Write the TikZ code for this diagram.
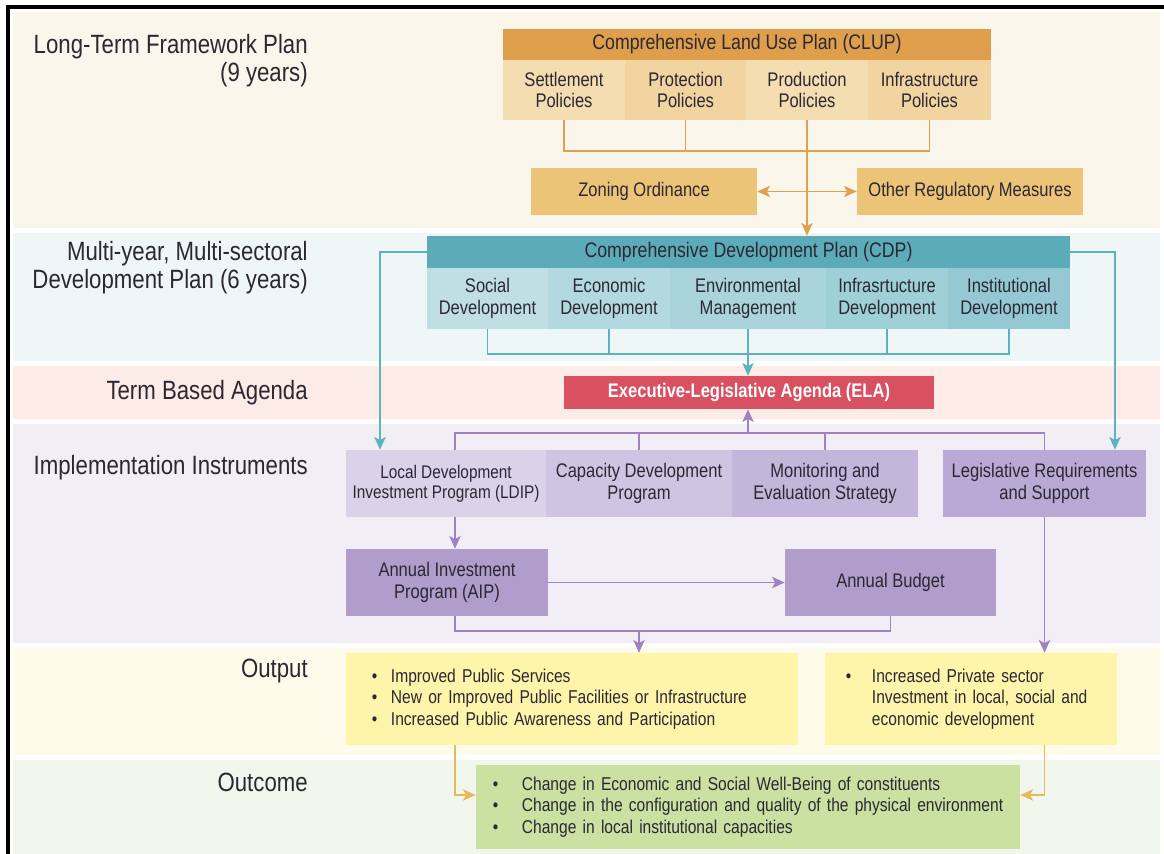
\documentclass[tikz,border=0pt]{standalone}
\usepackage{fontspec}
\setmainfont{Liberation Sans}[FakeStretch=0.84]
\usepackage{tikz}
\usetikzlibrary{arrows.meta}

\definecolor{ink}{HTML}{2B2833}
\definecolor{bandA}{HTML}{FBF6EC}
\definecolor{bandB}{HTML}{EEF6F8}
\definecolor{bandC}{HTML}{FCEBE7}
\definecolor{bandD}{HTML}{F1EEF6}
\definecolor{bandE}{HTML}{FEFBEA}
\definecolor{bandF}{HTML}{F2F7EE}
\definecolor{clupHead}{HTML}{DE9E4C}
\definecolor{clupA}{HTML}{F4DDB0}
\definecolor{clupB}{HTML}{F1D4A0}
\definecolor{zoneFill}{HTML}{ECC477}
\definecolor{orline}{HTML}{DFA04F}
\definecolor{cdpHead}{HTML}{5CABB8}
\definecolor{cdpA}{HTML}{C0DFE5}
\definecolor{cdpB}{HTML}{B3D9E0}
\definecolor{cdpC}{HTML}{A9D4DB}
\definecolor{cdpD}{HTML}{9FCFD7}
\definecolor{cdpE}{HTML}{94C9D3}
\definecolor{tealline}{HTML}{5AB3BD}
\definecolor{elaFill}{HTML}{D95060}
\definecolor{impA}{HTML}{DAD2E8}
\definecolor{impB}{HTML}{CFC5E2}
\definecolor{impC}{HTML}{C4B6DB}
\definecolor{impD}{HTML}{BAA9D5}
\definecolor{aipFill}{HTML}{B19DCC}
\definecolor{purline}{HTML}{9D83C2}
\definecolor{outFill}{HTML}{FFF5AA}
\definecolor{outcFill}{HTML}{CAE1A2}
\definecolor{yelline}{HTML}{E8B85C}

\newcommand\bul[1]{\makebox[#1][l]{\textbullet}}

\begin{document}
\begin{tikzpicture}[x=0.025cm, y=-0.025cm,
	>={Stealth[length=9pt,width=8pt,inset=2.2pt]},
	cell/.style={inner sep=0pt, align=center, text=ink, font=\fontsize{14}{15.5}\selectfont},
	head/.style={cell, font=\fontsize{15}{17}\selectfont},
	side/.style={anchor=east, align=right, text=ink, inner sep=0pt, font=\fontsize{18.8}{20}\selectfont},
	list/.style={inner ysep=0pt, align=left, text=ink, font=\fontsize{13.2}{15.4}\selectfont},
	boxsize/.style 2 args={minimum width=#1*0.025cm, minimum height=#2*0.025cm},
	oline/.style={draw=orline, line width=1.3pt},
	tline/.style={draw=tealline, line width=1.3pt},
	pline/.style={draw=purline, line width=1.3pt},
	yline/.style={draw=yelline, line width=1.3pt}]
	\useasboundingbox (0,0) rectangle (1164,854);
	% bands
	\fill[bandA] (13,12) rectangle (1160,228);
	\fill[bandB] (13,233) rectangle (1160,361);
	\fill[bandC] (13,366) rectangle (1160,419);
	\fill[bandD] (13,424) rectangle (1160,643);
	\fill[bandE] (13,648) rectangle (1160,755);
	\fill[bandF] (13,760) rectangle (1160,854);
	\draw[line width=2.2pt] (8,854) -- (8,7) -- (1164,7);
	% left labels
	\node[side] (lbA) at (308,61) {Long-Term Framework Plan\\(9 years)};
	\node[side] (lbB) at (308,268) {Multi-year, Multi-sectoral\\Development Plan (6 years)};
	\node[side] (lbC) at (308,393) {Term Based Agenda};
	\node[side] (lbD) at (308,468) {Implementation Instruments};
	\node[side] (lbE) at (308,671) {Output};
	\node[side] (lbF) at (308,782) {Outcome};
	% CLUP
	\node[head, fill=clupHead, boxsize={488}{31}] (clup) at (747,44.5) {Comprehensive Land Use Plan (CLUP)};
	\node[cell, fill=clupA, boxsize={122}{60}] (settle) at (564,90) {Settlement\\Policies};
	\node[cell, fill=clupB, boxsize={121}{60}] (protect) at (685.5,90) {Protection\\Policies};
	\node[cell, fill=clupA, boxsize={122}{60}] (produce) at (807,90) {Production\\Policies};
	\node[cell, fill=clupB, boxsize={123}{60}] (infra) at (929.5,90) {Infrastructure\\Policies};
	\node[cell, fill=zoneFill, boxsize={226}{47}] (zoning) at (644,191.5) {Zoning Ordinance};
	\node[cell, fill=zoneFill, boxsize={226}{47}] (other) at (970,191.5) {Other Regulatory Measures};
	% CDP
	\node[head, fill=cdpHead, boxsize={643}{32}] (cdp) at (748.5,252) {Comprehensive Development Plan (CDP)};
	\node[cell, fill=cdpA, boxsize={121}{61}] (social) at (487.5,298.5) {Social\\Development};
	\node[cell, fill=cdpB, boxsize={122}{61}] (econ) at (609,298.5) {Economic\\Development};
	\node[cell, fill=cdpC, boxsize={156}{61}] (envir) at (748,298.5) {Environmental\\Management};
	\node[cell, fill=cdpD, boxsize={122}{61}] (infdev) at (887,298.5) {Infrasrtucture\\Development};
	\node[cell, fill=cdpE, boxsize={122}{61}] (instit) at (1009,298.5) {Institutional\\Development};
	% ELA
	\node[cell, fill=elaFill, text=white, font=\fontsize{14}{16}\selectfont\bfseries, boxsize={370}{33}] (ela) at (749,392.5) {Executive-Legislative Agenda (ELA)};
	% implementation
	\node[cell, fill=impA, font=\fontsize{13}{14.5}\selectfont, boxsize={200}{67}] (ldip) at (446,483.5) {Local Development\\Investment Program (LDIP)};
	\node[cell, fill=impB, boxsize={186}{67}] (capdev) at (639,483.5) {Capacity Development\\Program};
	\node[cell, fill=impC, boxsize={186}{67}] (monit) at (825,483.5) {Monitoring and\\Evaluation Strategy};
	\node[cell, fill=impD, boxsize={203}{67}] (legis) at (1044.5,483.5) {Legislative Requirements\\and Support};
	\node[cell, fill=aipFill, boxsize={202}{67}] (aip) at (447,582.5) {Annual Investment\\Program (AIP)};
	\node[cell, fill=aipFill, boxsize={211}{67}] (budget) at (890.5,582.5) {Annual Budget};
	% output / outcome
	\node[list, fill=outFill, boxsize={452}{92}, text width=10cm, inner xsep=0.65cm] (outL) at (572,699)
		{\mbox{\bul{13.5pt}Improved Public Services}\\
		 \mbox{\bul{13.5pt}New or Improved Public Facilities or Infrastructure}\\
		 \mbox{\bul{13.5pt}Increased Public Awareness and Participation}};
	\node[list, fill=outFill, boxsize={292}{92}, text width=6.25cm, inner xsep=0.525cm] (outR) at (971,699)
		{\mbox{\bul{18.5pt}Increased Private sector}\\
		 \mbox{\hspace*{18.5pt}Investment in local, social and}\\
		 \mbox{\hspace*{18.5pt}economic development}};
	\node[list, fill=outcFill, boxsize={544}{84}, text width=12.75cm, inner xsep=0.425cm] (outc) at (748,807)
		{\mbox{\bul{20.6pt}Change in Economic and Social Well-Being of constituents}\\
		 \mbox{\bul{20.6pt}Change in the configuration and quality of the physical environment}\\
		 \mbox{\bul{20.6pt}Change in local institutional capacities}};
	% connectors
	\coordinate (jClup) at (807,151);
	\draw[oline] (settle.south) |- (jClup) -| (infra.south);
	\draw[oline] (protect.south) -- (protect.south |- jClup);
	\draw[oline,->] (produce.south) -- (produce.south |- cdp.north);
	\draw[oline,<->] (zoning.east) -- (other.west);
	\coordinate (jCdp) at (748,354);
	\draw[tline] (social.south) |- (jCdp) -| (instit.south);
	\draw[tline] (econ.south) -- (econ.south |- jCdp);
	\draw[tline] (infdev.south) -- (infdev.south |- jCdp);
	\draw[tline,->] (envir.south) -- (envir.south |- ela.north);
	\coordinate (tL) at (380,0);
	\coordinate (tR) at (1115,0);
	\draw[tline,->] (cdp.west) -| (ldip.north -| tL);
	\draw[tline,->] (cdp.east) -| (legis.north -| tR);
	\coordinate (colL) at (455,0);
	\coordinate (jImp) at (748,433);
	\draw[pline] (ldip.north -| colL) |- (jImp) -| (legis.north);
	\draw[pline] (capdev.north) -- (capdev.north |- jImp);
	\draw[pline] (monit.north) -- (monit.north |- jImp);
	\draw[pline,->] (jImp) -- (jImp |- ela.south);
	\draw[pline,->] (ldip.south -| colL) -- (aip.north -| colL);
	\draw[pline,->] (aip.east) -- (budget.west);
	\coordinate (jAip) at (639,631);
	\draw[pline] (aip.south -| colL) |- (jAip) -| (budget.south);
	\draw[pline,->] (jAip) -- (jAip |- outL.north);
	\draw[pline,->] (legis.south) -- (legis.south |- outR.north);
	\draw[yline,->] (outL.south -| colL) |- ([yshift=0.3cm]outc.west);
	\draw[yline,->] (outR.south -| legis.south) |- ([yshift=0.3cm]outc.east);
\end{tikzpicture}
\end{document}
